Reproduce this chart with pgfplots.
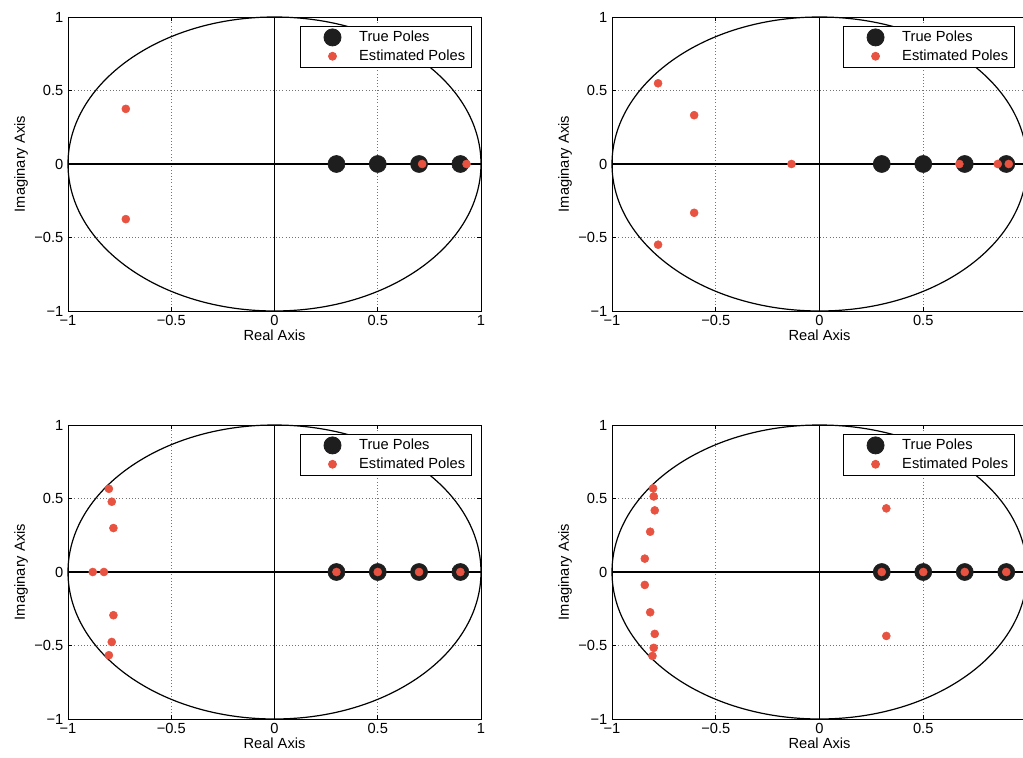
\documentclass[border=0pt]{standalone}
\usepackage{pgfplots}
\pgfplotsset{compat=1.18}
\usepackage{fontspec}
\setmainfont{Liberation Sans}
\definecolor{estred}{RGB}{232,82,64}
\definecolor{truepole}{RGB}{30,30,30}
\pgfplotsset{
  pz/.style={
    scale only axis,
    width=#1,
    height=220.5pt,
    xmin=-1, xmax=1, ymin=-1, ymax=1,
    xtick={-1,-0.5,0,0.5,1},
    xticklabels={−1,−0.5,0,0.5,1},
    ytick={-1,-0.5,0,0.5,1},
    yticklabels={−1,−0.5,0,0.5,1},
    tick align=inside,
    major tick length=3pt,
    tick style={black, line width=0.5pt},
    axis line style={black, line width=0.7pt},
    grid=major,
    major grid style={black!55, dotted, line width=0.7pt},
    font=\fontsize{11}{13}\selectfont,
    ticklabel style={font=\fontsize{11}{13}\selectfont},
    xlabel={Real Axis},
    ylabel={Imaginary Axis},
    xlabel style={yshift=4pt},
    ylabel style={yshift=-2pt},
    clip=false,
    legend cell align=left,
    legend style={
      anchor=north west,
      draw=black, line width=0.6pt, fill=white,
      font=\fontsize{11}{13}\selectfont,
      inner xsep=2pt, inner ysep=2pt,
      row sep=1.5pt,
      nodes={inner xsep=3pt, inner ysep=1.5pt},
    },
    legend image code/.code={%
      \fill[white, opacity=0] (0pt,-2pt) rectangle (39pt,2pt);
      \draw[##1, draw=none, mark repeat=2, mark phase=2] plot coordinates {(0pt,0pt)(22pt,0pt)(39pt,0pt)};},
  },
  truep/.style={draw=none, mark=*, mark size=6.4pt, mark options={fill=truepole, draw=truepole}},
  estp/.style={draw=none, mark=*, mark size=3pt, mark options={fill=estred, draw=estred}},
}
\newcommand{\zplane}{%
  \draw[black, line width=0.9pt] (axis cs:0,0) ellipse [x radius=1, y radius=1];
  \draw[black, line width=0.8pt] (axis cs:-1,0) -- (axis cs:1,0);
  \draw[black, line width=0.8pt] (axis cs:0,-1) -- (axis cs:0,1);
}
\begin{document}
\begin{tikzpicture}
% top-left
\begin{axis}[pz=309.75pt, at={(51pt,334.5pt)}, anchor=south west,
  legend style={at={(0.562,0.97)}}]
\zplane
\addplot[truep] coordinates {(0.3,0) (0.5,0) (0.7,0) (0.9,0)};
\addplot[estp] coordinates {(-0.72,0.375) (-0.72,-0.375) (0.715,0) (0.93,0)};
\legend{True Poles, Estimated Poles}
\end{axis}
% top-right
\begin{axis}[pz=311.25pt, at={(459pt,334.5pt)}, anchor=south west,
  xticklabels={−1,−0.5,0,0.5,{}},
  legend style={at={(0.557,0.97)}}]
\zplane
\addplot[truep] coordinates {(0.3,0) (0.5,0) (0.7,0) (0.9,0)};
\addplot[estp] coordinates {(-0.778,0.549) (-0.604,0.332) (-0.135,0) (-0.604,-0.332) (-0.778,-0.549) (0.674,0) (0.859,0) (0.912,0)};
\legend{True Poles, Estimated Poles}
\end{axis}
% bottom-left
\begin{axis}[pz=309.75pt, at={(51pt,28.5pt)}, anchor=south west,
  legend style={at={(0.562,0.97)}}]
\zplane
\addplot[truep] coordinates {(0.3,0) (0.5,0) (0.7,0) (0.9,0)};
\addplot[estp] coordinates {(-0.802,0.566) (-0.788,0.478) (-0.78,0.299) (-0.88,0) (-0.826,0) (-0.78,-0.294) (-0.788,-0.476) (-0.802,-0.566) (0.3,0) (0.5,0) (0.7,0) (0.9,0)};
\legend{True Poles, Estimated Poles}
\end{axis}
% bottom-right
\begin{axis}[pz=311.25pt, at={(459pt,28.5pt)}, anchor=south west,
  xticklabels={−1,−0.5,0,0.5,{}},
  legend style={at={(0.557,0.97)}}]
\zplane
\addplot[truep] coordinates {(0.3,0) (0.5,0) (0.7,0) (0.9,0)};
\addplot[estp] coordinates {(-0.802,0.569) (-0.799,0.514) (-0.794,0.419) (-0.816,0.274) (-0.842,0.091) (-0.842,-0.088) (-0.816,-0.274) (-0.794,-0.421) (-0.799,-0.516) (-0.805,-0.571) (0.322,0.433) (0.322,-0.435) (0.3,0) (0.5,0) (0.7,0) (0.9,0)};
\legend{True Poles, Estimated Poles}
\end{axis}
\pgfresetboundingbox
\useasboundingbox (0pt,0pt) rectangle (767.25pt,567.75pt);
\end{tikzpicture}
\end{document}
